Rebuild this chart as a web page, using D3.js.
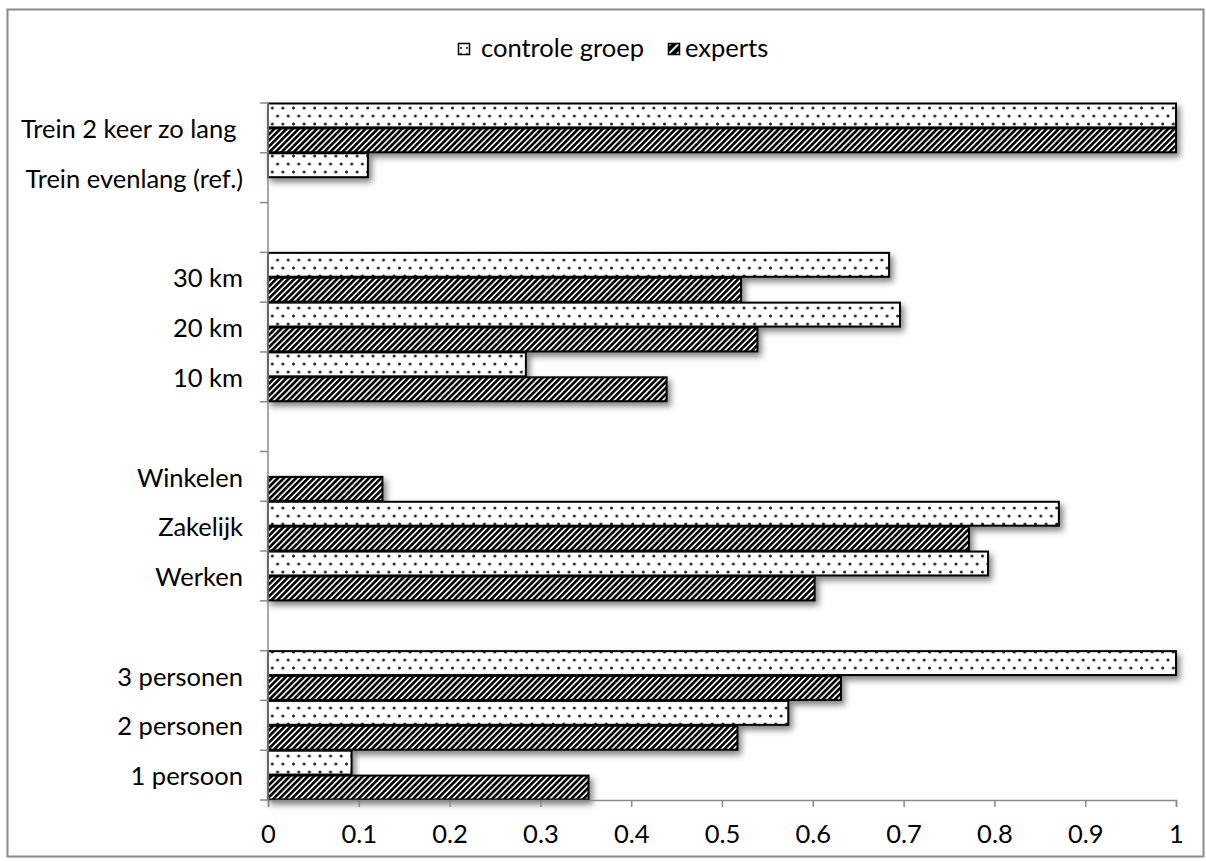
<!DOCTYPE html>
<html>
<head>
<meta charset="utf-8">
<script src="https://cdn.jsdelivr.net/npm/d3@7"></script>
<style>
  html, body { margin: 0; padding: 0; background: #fff; }
  svg { display: block; }
  text { font-family: Lato, "Open Sans", sans-serif; fill: #000; }
</style>
</head>
<body>
<svg id="chart" width="1206" height="861"></svg>
<script>
// ---- data (top to bottom) ----
const categories = ["Trein 2 keer zo lang ", "Trein evenlang (ref.)", "", "30 km", "20 km", "10 km", "", "Winkelen", "Zakelijk", "Werken", "", "3 personen", "2 personen", "1 persoon"];
const controle = [1, 0.11, null, 0.684, 0.696, 0.284, null, 0, 0.871, 0.793, null, 1, 0.573, 0.092];
const experts  = [1, 0, null, 0.521, 0.539, 0.439, null, 0.126, 0.772, 0.602, null, 0.631, 0.517, 0.353];
const seriesNames = ["controle groep", "experts"];
const xTicks = [0, 0.1, 0.2, 0.3, 0.4, 0.5, 0.6, 0.7, 0.8, 0.9, 1];
const xTickLabels = ["0", "0.1", "0.2", "0.3", "0.4", "0.5", "0.6", "0.7", "0.8", "0.9", "1"];

const svg = d3.select("#chart");
const FONT = 25.5;
const axisColor = "#8a8a8a";

// ---- defs: patterns + shadow ----
const defs = svg.append("defs");
const dots = defs.append("pattern").attr("id", "dots")
  .attr("patternUnits", "userSpaceOnUse").attr("width", 10.6).attr("height", 16);
dots.append("rect").attr("width", 10.6).attr("height", 16).attr("fill", "#fff");
dots.append("circle").attr("cx", 2).attr("cy", 4).attr("r", 1.5).attr("fill", "#222");
dots.append("circle").attr("cx", 7.3).attr("cy", 12).attr("r", 1.5).attr("fill", "#222");

const stripes = defs.append("pattern").attr("id", "stripes")
  .attr("patternUnits", "userSpaceOnUse").attr("width", 4.3).attr("height", 10)
  .attr("patternTransform", "rotate(45)");
stripes.append("rect").attr("width", 4.3).attr("height", 10).attr("fill", "#fff");
stripes.append("rect").attr("width", 2.7).attr("height", 10).attr("fill", "#000");

// legend swatch patterns (coarser, as in the reference key)
const ldots = defs.append("pattern").attr("id", "ldots")
  .attr("patternUnits", "userSpaceOnUse").attr("width", 6).attr("height", 6)
  .attr("x", 459).attr("y", 44);
ldots.append("rect").attr("width", 6).attr("height", 6).attr("fill", "#fff");
ldots.append("circle").attr("cx", 2).attr("cy", 4).attr("r", 1.1).attr("fill", "#222");
const lstripes = defs.append("pattern").attr("id", "lstripes")
  .attr("patternUnits", "userSpaceOnUse").attr("width", 6).attr("height", 10)
  .attr("patternTransform", "rotate(45)");
lstripes.append("rect").attr("width", 6).attr("height", 10).attr("fill", "#000");
lstripes.append("rect").attr("width", 1.8).attr("height", 10).attr("fill", "#fff");

const shadow = defs.append("filter").attr("id", "shadow")
  .attr("x", "-5%").attr("y", "-30%").attr("width", "115%").attr("height", "180%");
shadow.append("feDropShadow").attr("dx", 3).attr("dy", 4).attr("stdDeviation", 3)
  .attr("flood-color", "#000").attr("flood-opacity", 0.5);

const fills = ["url(#dots)", "url(#stripes)"];
const legendFills = ["url(#ldots)", "url(#lstripes)"];

// ---- outer frame ----
svg.append("rect").attr("x", 7.5).attr("y", 9.5).attr("width", 1196).attr("height", 847)
  .attr("fill", "#fff").attr("stroke", "#8a8a8a").attr("stroke-width", 2);

// ---- scales ----
const plotLeft = 268, plotRight = 1176, plotTop = 103, plotBottom = 800;
const x = d3.scaleLinear().domain([0, 1]).range([plotLeft, plotRight]);
const idx = d3.range(categories.length);
const y = d3.scaleBand().domain(idx).range([plotTop, plotBottom]).paddingInner(0).paddingOuter(0);
const ySub = d3.scaleBand().domain([0, 1]).range([0, y.bandwidth()]).padding(0);
const yEdge = d3.scaleLinear().domain([0, categories.length]).range([plotTop, plotBottom]);

// ---- bars ----
const rows = [];
idx.forEach(i => {
  [controle[i], experts[i]].forEach((v, s) => {
    if (v != null && v > 0) rows.push({ i, s, v });
  });
});
svg.append("g").selectAll("rect").data(rows).join("rect")
  .attr("x", x(0))
  .attr("y", d => y(d.i) + ySub(d.s) + 0.5)
  .attr("width", d => x(d.v) - x(0))
  .attr("height", ySub.bandwidth() - 1)
  .attr("fill", d => fills[d.s])
  .attr("stroke", "#000").attr("stroke-width", 2)
  .attr("filter", "url(#shadow)");

// ---- y axis ----
const gy = svg.append("g");
gy.append("line").attr("x1", plotLeft).attr("x2", plotLeft).attr("y1", plotTop).attr("y2", plotBottom)
  .attr("stroke", axisColor).attr("stroke-width", 1.5);
gy.selectAll("line.tick").data(d3.range(categories.length + 1)).join("line").attr("class", "tick")
  .attr("x1", plotLeft - 8).attr("x2", plotLeft)
  .attr("y1", d => yEdge(d)).attr("y2", d => yEdge(d))
  .attr("stroke", axisColor).attr("stroke-width", 1.5);
const yAxis = d3.axisLeft(y).tickSize(0).tickPadding(25).tickFormat(i => categories[i]);
const gyl = svg.append("g").attr("transform", `translate(${plotLeft},2)`).call(yAxis);
gyl.select(".domain").remove();
gyl.selectAll("text").style("font-size", FONT + "px").style("white-space", "pre")
  .attr("font-family", "Lato, sans-serif");

// ---- x axis ----
const xAxis = d3.axisBottom(x).tickValues(xTicks).tickSize(7).tickPadding(18)
  .tickFormat((d, i) => xTickLabels[i]);
const gx = svg.append("g").attr("transform", `translate(0,${plotBottom})`).call(xAxis);
gx.select(".domain").attr("stroke", axisColor).attr("stroke-width", 1.5);
gx.selectAll(".tick line").attr("stroke", axisColor).attr("stroke-width", 1.5);
gx.selectAll("text").style("font-size", FONT + "px").attr("font-family", "Lato, sans-serif");

// ---- legend ----
const legendX = [458, 668];
const legendTextX = [481, 685];
const lg = svg.append("g");
seriesNames.forEach((name, s) => {
  lg.append("rect").attr("x", legendX[s] + 0.5).attr("y", 43.5).attr("width", 11).attr("height", 11)
    .attr("fill", legendFills[s]).attr("stroke", "#000").attr("stroke-width", 1.5);
  lg.append("text").attr("x", legendTextX[s]).attr("y", 57)
    .style("font-size", FONT + "px").text(name);
});
</script>
</body>
</html>
